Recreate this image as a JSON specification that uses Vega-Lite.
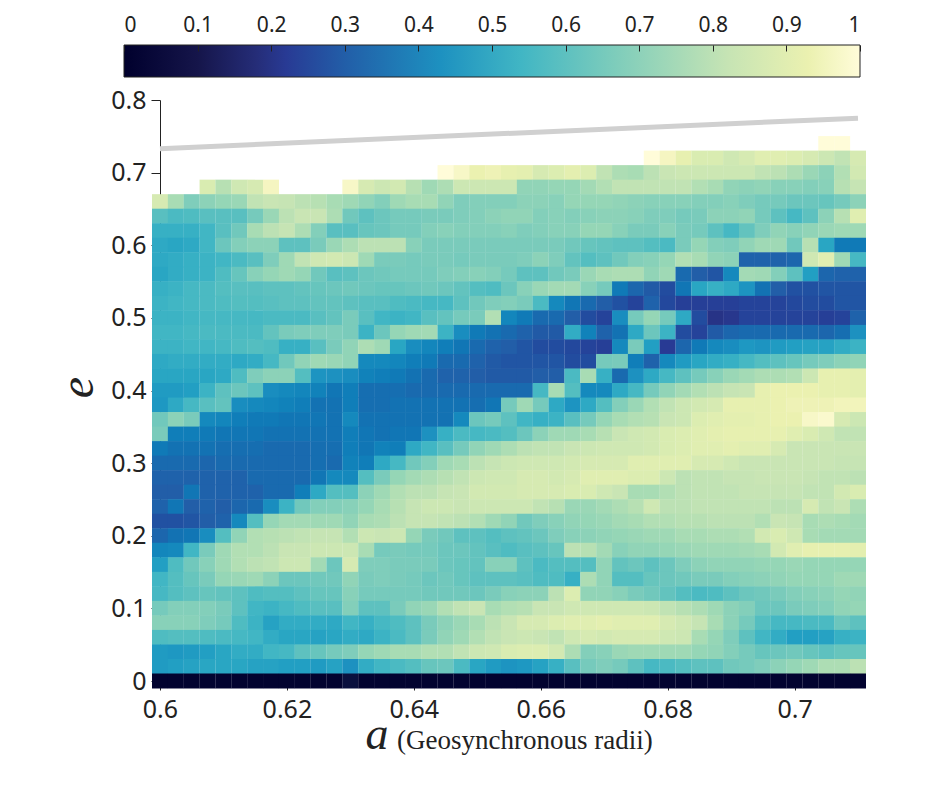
{"$schema":"https://vega.github.io/schema/vega-lite/v6.json","padding":{"left":54,"top":14,"right":0,"bottom":0},"background":"white","spacing":10,"config":{"view":{"stroke":null}},"vconcat":[{"width":736,"height":32,"data":{"values":[{"lo":0,"hi":1}]},"mark":{"type":"rect","stroke":"#222","strokeWidth":1,"color":{"gradient":"linear","x1":0,"x2":1,"y1":0,"y2":0,"stops":[{"offset":0,"color":"#00002d"},{"offset":0.1,"color":"#15154a"},{"offset":0.18,"color":"#252d78"},{"offset":0.22,"color":"#283a94"},{"offset":0.3,"color":"#225ea8"},{"offset":0.43,"color":"#1d91c0"},{"offset":0.54,"color":"#41b6c4"},{"offset":0.67,"color":"#7fcdbb"},{"offset":0.82,"color":"#c6e4b4"},{"offset":0.93,"color":"#ebf1b0"},{"offset":1,"color":"#fffcd9"}]}},"encoding":{"x":{"field":"lo","type":"quantitative","scale":{"domain":[0,1]},"axis":{"orient":"top","title":null,"values":[0,0.1,0.2,0.3,0.4,0.5,0.6,0.7,0.8,0.9,1],"labelExpr":"datum.value","tickSize":-6,"tickColor":"#222","domain":false,"labelFlush":true,"labelFont":"Noto Sans","labelFontSize":21,"labelColor":"#222","labelPadding":16,"grid":false,"zindex":1}},"x2":{"field":"hi"}}},{"width":734,"height":581,"title":{"text":"(Geosynchronous radii)","orient":"bottom","anchor":"start","offset":-29,"dx":343,"font":"Liberation Serif","fontSize":27,"fontWeight":"normal","color":"#222"},"layer":[{"data":{"values":[
{"a":0.705,"e":0.74,"v":1},{"a":0.7075,"e":0.74,"v":1},
{"a":0.6775,"e":0.72,"v":1},{"a":0.68,"e":0.72,"v":0.96},{"a":0.6825,"e":0.72,"v":0.92},{"a":0.685,"e":0.72,"v":0.88},{"a":0.6875,"e":0.72,"v":0.88},{"a":0.69,"e":0.72,"v":0.85},{"a":0.6925,"e":0.72,"v":0.87},{"a":0.695,"e":0.72,"v":0.9},{"a":0.6975,"e":0.72,"v":0.9},{"a":0.7,"e":0.72,"v":0.89},{"a":0.7025,"e":0.72,"v":0.87},{"a":0.705,"e":0.72,"v":0.84},{"a":0.7075,"e":0.72,"v":0.81},{"a":0.71,"e":0.72,"v":0.87},
{"a":0.645,"e":0.7,"v":1},{"a":0.6475,"e":0.7,"v":0.97},{"a":0.65,"e":0.7,"v":0.93},{"a":0.6525,"e":0.7,"v":0.94},{"a":0.655,"e":0.7,"v":0.92},{"a":0.6575,"e":0.7,"v":0.91},{"a":0.66,"e":0.7,"v":0.87},{"a":0.6625,"e":0.7,"v":0.89},{"a":0.665,"e":0.7,"v":0.91},{"a":0.6675,"e":0.7,"v":0.89},{"a":0.67,"e":0.7,"v":0.81},{"a":0.6725,"e":0.7,"v":0.77},{"a":0.675,"e":0.7,"v":0.76},{"a":0.6775,"e":0.7,"v":0.8},{"a":0.68,"e":0.7,"v":0.83},{"a":0.6825,"e":0.7,"v":0.84},{"a":0.685,"e":0.7,"v":0.84},{"a":0.6875,"e":0.7,"v":0.84},{"a":0.69,"e":0.7,"v":0.84},{"a":0.6925,"e":0.7,"v":0.84},{"a":0.695,"e":0.7,"v":0.81},{"a":0.6975,"e":0.7,"v":0.8},{"a":0.7,"e":0.7,"v":0.77},{"a":0.7025,"e":0.7,"v":0.73},{"a":0.705,"e":0.7,"v":0.7},{"a":0.7075,"e":0.7,"v":0.78},{"a":0.71,"e":0.7,"v":0.86},
{"a":0.6075,"e":0.68,"v":0.88},{"a":0.61,"e":0.68,"v":0.79},{"a":0.6125,"e":0.68,"v":0.85},{"a":0.615,"e":0.68,"v":0.87},{"a":0.6175,"e":0.68,"v":0.96},{"a":0.63,"e":0.68,"v":0.97},{"a":0.6325,"e":0.68,"v":0.87},{"a":0.635,"e":0.68,"v":0.84},{"a":0.6375,"e":0.68,"v":0.86},{"a":0.64,"e":0.68,"v":0.79},{"a":0.6425,"e":0.68,"v":0.74},{"a":0.645,"e":0.68,"v":0.77},{"a":0.6475,"e":0.68,"v":0.84},{"a":0.65,"e":0.68,"v":0.84},{"a":0.6525,"e":0.68,"v":0.84},{"a":0.655,"e":0.68,"v":0.84},{"a":0.6575,"e":0.68,"v":0.71},{"a":0.66,"e":0.68,"v":0.71},{"a":0.6625,"e":0.68,"v":0.72},{"a":0.665,"e":0.68,"v":0.72},{"a":0.6675,"e":0.68,"v":0.75},{"a":0.67,"e":0.68,"v":0.78},{"a":0.6725,"e":0.68,"v":0.81},{"a":0.675,"e":0.68,"v":0.81},{"a":0.6775,"e":0.68,"v":0.81},{"a":0.68,"e":0.68,"v":0.81},{"a":0.6825,"e":0.68,"v":0.81},{"a":0.685,"e":0.68,"v":0.78},{"a":0.6875,"e":0.68,"v":0.76},{"a":0.69,"e":0.68,"v":0.71},{"a":0.6925,"e":0.68,"v":0.7},{"a":0.695,"e":0.68,"v":0.71},{"a":0.6975,"e":0.68,"v":0.69},{"a":0.7,"e":0.68,"v":0.69},{"a":0.7025,"e":0.68,"v":0.68},{"a":0.705,"e":0.68,"v":0.69},{"a":0.7075,"e":0.68,"v":0.79},{"a":0.71,"e":0.68,"v":0.82},
{"a":0.6,"e":0.66,"v":0.87},{"a":0.6025,"e":0.66,"v":0.76},{"a":0.605,"e":0.66,"v":0.67},{"a":0.6075,"e":0.66,"v":0.7},{"a":0.61,"e":0.66,"v":0.72},{"a":0.6125,"e":0.66,"v":0.73},{"a":0.615,"e":0.66,"v":0.81},{"a":0.6175,"e":0.66,"v":0.83},{"a":0.62,"e":0.66,"v":0.82},{"a":0.6225,"e":0.66,"v":0.8},{"a":0.625,"e":0.66,"v":0.79},{"a":0.6275,"e":0.66,"v":0.76},{"a":0.63,"e":0.66,"v":0.74},{"a":0.6325,"e":0.66,"v":0.71},{"a":0.635,"e":0.66,"v":0.68},{"a":0.6375,"e":0.66,"v":0.74},{"a":0.64,"e":0.66,"v":0.76},{"a":0.6425,"e":0.66,"v":0.76},{"a":0.645,"e":0.66,"v":0.71},{"a":0.6475,"e":0.66,"v":0.67},{"a":0.65,"e":0.66,"v":0.68},{"a":0.6525,"e":0.66,"v":0.68},{"a":0.655,"e":0.66,"v":0.68},{"a":0.6575,"e":0.66,"v":0.7},{"a":0.66,"e":0.66,"v":0.7},{"a":0.6625,"e":0.66,"v":0.69},{"a":0.665,"e":0.66,"v":0.72},{"a":0.6675,"e":0.66,"v":0.72},{"a":0.67,"e":0.66,"v":0.72},{"a":0.6725,"e":0.66,"v":0.71},{"a":0.675,"e":0.66,"v":0.7},{"a":0.6775,"e":0.66,"v":0.69},{"a":0.68,"e":0.66,"v":0.69},{"a":0.6825,"e":0.66,"v":0.69},{"a":0.685,"e":0.66,"v":0.68},{"a":0.6875,"e":0.66,"v":0.68},{"a":0.69,"e":0.66,"v":0.69},{"a":0.6925,"e":0.66,"v":0.67},{"a":0.695,"e":0.66,"v":0.65},{"a":0.6975,"e":0.66,"v":0.65},{"a":0.7,"e":0.66,"v":0.63},{"a":0.7025,"e":0.66,"v":0.63},{"a":0.705,"e":0.66,"v":0.62},{"a":0.7075,"e":0.66,"v":0.65},{"a":0.71,"e":0.66,"v":0.7},
{"a":0.6,"e":0.64,"v":0.59},{"a":0.6025,"e":0.64,"v":0.56},{"a":0.605,"e":0.64,"v":0.57},{"a":0.6075,"e":0.64,"v":0.59},{"a":0.61,"e":0.64,"v":0.59},{"a":0.6125,"e":0.64,"v":0.59},{"a":0.615,"e":0.64,"v":0.65},{"a":0.6175,"e":0.64,"v":0.73},{"a":0.62,"e":0.64,"v":0.8},{"a":0.6225,"e":0.64,"v":0.83},{"a":0.625,"e":0.64,"v":0.83},{"a":0.6275,"e":0.64,"v":0.77},{"a":0.63,"e":0.64,"v":0.64},{"a":0.6325,"e":0.64,"v":0.6},{"a":0.635,"e":0.64,"v":0.63},{"a":0.6375,"e":0.64,"v":0.65},{"a":0.64,"e":0.64,"v":0.65},{"a":0.6425,"e":0.64,"v":0.66},{"a":0.645,"e":0.64,"v":0.66},{"a":0.6475,"e":0.64,"v":0.67},{"a":0.65,"e":0.64,"v":0.68},{"a":0.6525,"e":0.64,"v":0.7},{"a":0.655,"e":0.64,"v":0.71},{"a":0.6575,"e":0.64,"v":0.71},{"a":0.66,"e":0.64,"v":0.68},{"a":0.6625,"e":0.64,"v":0.69},{"a":0.665,"e":0.64,"v":0.68},{"a":0.6675,"e":0.64,"v":0.69},{"a":0.67,"e":0.64,"v":0.7},{"a":0.6725,"e":0.64,"v":0.7},{"a":0.675,"e":0.64,"v":0.69},{"a":0.6775,"e":0.64,"v":0.67},{"a":0.68,"e":0.64,"v":0.67},{"a":0.6825,"e":0.64,"v":0.65},{"a":0.685,"e":0.64,"v":0.66},{"a":0.6875,"e":0.64,"v":0.7},{"a":0.69,"e":0.64,"v":0.7},{"a":0.6925,"e":0.64,"v":0.71},{"a":0.695,"e":0.64,"v":0.65},{"a":0.6975,"e":0.64,"v":0.6},{"a":0.7,"e":0.64,"v":0.55},{"a":0.7025,"e":0.64,"v":0.6},{"a":0.705,"e":0.64,"v":0.7},{"a":0.7075,"e":0.64,"v":0.79},{"a":0.71,"e":0.64,"v":0.9},
{"a":0.6,"e":0.62,"v":0.52},{"a":0.6025,"e":0.62,"v":0.52},{"a":0.605,"e":0.62,"v":0.52},{"a":0.6075,"e":0.62,"v":0.54},{"a":0.61,"e":0.62,"v":0.59},{"a":0.6125,"e":0.62,"v":0.64},{"a":0.615,"e":0.62,"v":0.76},{"a":0.6175,"e":0.62,"v":0.8},{"a":0.62,"e":0.62,"v":0.82},{"a":0.6225,"e":0.62,"v":0.77},{"a":0.625,"e":0.62,"v":0.68},{"a":0.6275,"e":0.62,"v":0.59},{"a":0.63,"e":0.62,"v":0.59},{"a":0.6325,"e":0.62,"v":0.62},{"a":0.635,"e":0.62,"v":0.63},{"a":0.6375,"e":0.62,"v":0.65},{"a":0.64,"e":0.62,"v":0.65},{"a":0.6425,"e":0.62,"v":0.68},{"a":0.645,"e":0.62,"v":0.69},{"a":0.6475,"e":0.62,"v":0.68},{"a":0.65,"e":0.62,"v":0.68},{"a":0.6525,"e":0.62,"v":0.68},{"a":0.655,"e":0.62,"v":0.69},{"a":0.6575,"e":0.62,"v":0.67},{"a":0.66,"e":0.62,"v":0.68},{"a":0.6625,"e":0.62,"v":0.69},{"a":0.665,"e":0.62,"v":0.69},{"a":0.6675,"e":0.62,"v":0.72},{"a":0.67,"e":0.62,"v":0.72},{"a":0.6725,"e":0.62,"v":0.69},{"a":0.675,"e":0.62,"v":0.66},{"a":0.6775,"e":0.62,"v":0.66},{"a":0.68,"e":0.62,"v":0.69},{"a":0.6825,"e":0.62,"v":0.66},{"a":0.685,"e":0.62,"v":0.65},{"a":0.6875,"e":0.62,"v":0.6},{"a":0.69,"e":0.62,"v":0.55},{"a":0.6925,"e":0.62,"v":0.61},{"a":0.695,"e":0.62,"v":0.67},{"a":0.6975,"e":0.62,"v":0.71},{"a":0.7,"e":0.62,"v":0.69},{"a":0.7025,"e":0.62,"v":0.71},{"a":0.705,"e":0.62,"v":0.73},{"a":0.7075,"e":0.62,"v":0.74},{"a":0.71,"e":0.62,"v":0.74},
{"a":0.6,"e":0.6,"v":0.5},{"a":0.6025,"e":0.6,"v":0.49},{"a":0.605,"e":0.6,"v":0.5},{"a":0.6075,"e":0.6,"v":0.54},{"a":0.61,"e":0.6,"v":0.63},{"a":0.6125,"e":0.6,"v":0.68},{"a":0.615,"e":0.6,"v":0.7},{"a":0.6175,"e":0.6,"v":0.7},{"a":0.62,"e":0.6,"v":0.6},{"a":0.6225,"e":0.6,"v":0.6},{"a":0.625,"e":0.6,"v":0.66},{"a":0.6275,"e":0.6,"v":0.73},{"a":0.63,"e":0.6,"v":0.77},{"a":0.6325,"e":0.6,"v":0.8},{"a":0.635,"e":0.6,"v":0.8},{"a":0.6375,"e":0.6,"v":0.8},{"a":0.64,"e":0.6,"v":0.69},{"a":0.6425,"e":0.6,"v":0.66},{"a":0.645,"e":0.6,"v":0.66},{"a":0.6475,"e":0.6,"v":0.66},{"a":0.65,"e":0.6,"v":0.66},{"a":0.6525,"e":0.6,"v":0.66},{"a":0.655,"e":0.6,"v":0.66},{"a":0.6575,"e":0.6,"v":0.66},{"a":0.66,"e":0.6,"v":0.66},{"a":0.6625,"e":0.6,"v":0.66},{"a":0.665,"e":0.6,"v":0.64},{"a":0.6675,"e":0.6,"v":0.62},{"a":0.67,"e":0.6,"v":0.61},{"a":0.6725,"e":0.6,"v":0.6},{"a":0.675,"e":0.6,"v":0.6},{"a":0.6775,"e":0.6,"v":0.58},{"a":0.68,"e":0.6,"v":0.56},{"a":0.6825,"e":0.6,"v":0.66},{"a":0.685,"e":0.6,"v":0.72},{"a":0.6875,"e":0.6,"v":0.68},{"a":0.69,"e":0.6,"v":0.67},{"a":0.6925,"e":0.6,"v":0.71},{"a":0.695,"e":0.6,"v":0.74},{"a":0.6975,"e":0.6,"v":0.74},{"a":0.7,"e":0.6,"v":0.64},{"a":0.7025,"e":0.6,"v":0.79},{"a":0.705,"e":0.6,"v":0.49},{"a":0.7075,"e":0.6,"v":0.37},{"a":0.71,"e":0.6,"v":0.37},
{"a":0.6,"e":0.58,"v":0.5},{"a":0.6025,"e":0.58,"v":0.51},{"a":0.605,"e":0.58,"v":0.52},{"a":0.6075,"e":0.58,"v":0.53},{"a":0.61,"e":0.58,"v":0.54},{"a":0.6125,"e":0.58,"v":0.56},{"a":0.615,"e":0.58,"v":0.59},{"a":0.6175,"e":0.58,"v":0.67},{"a":0.62,"e":0.58,"v":0.74},{"a":0.6225,"e":0.58,"v":0.81},{"a":0.625,"e":0.58,"v":0.85},{"a":0.6275,"e":0.58,"v":0.86},{"a":0.63,"e":0.58,"v":0.84},{"a":0.6325,"e":0.58,"v":0.74},{"a":0.635,"e":0.58,"v":0.66},{"a":0.6375,"e":0.58,"v":0.66},{"a":0.64,"e":0.58,"v":0.65},{"a":0.6425,"e":0.58,"v":0.66},{"a":0.645,"e":0.58,"v":0.66},{"a":0.6475,"e":0.58,"v":0.65},{"a":0.65,"e":0.58,"v":0.66},{"a":0.6525,"e":0.58,"v":0.66},{"a":0.655,"e":0.58,"v":0.66},{"a":0.6575,"e":0.58,"v":0.67},{"a":0.66,"e":0.58,"v":0.7},{"a":0.6625,"e":0.58,"v":0.67},{"a":0.665,"e":0.58,"v":0.61},{"a":0.6675,"e":0.58,"v":0.58},{"a":0.67,"e":0.58,"v":0.6},{"a":0.6725,"e":0.58,"v":0.64},{"a":0.675,"e":0.58,"v":0.68},{"a":0.6775,"e":0.58,"v":0.69},{"a":0.68,"e":0.58,"v":0.72},{"a":0.6825,"e":0.58,"v":0.78},{"a":0.685,"e":0.58,"v":0.76},{"a":0.6875,"e":0.58,"v":0.71},{"a":0.69,"e":0.58,"v":0.7},{"a":0.6925,"e":0.58,"v":0.31},{"a":0.695,"e":0.58,"v":0.31},{"a":0.6975,"e":0.58,"v":0.31},{"a":0.7,"e":0.58,"v":0.32},{"a":0.7025,"e":0.58,"v":0.85},{"a":0.705,"e":0.58,"v":0.9},{"a":0.7075,"e":0.58,"v":0.74},{"a":0.71,"e":0.58,"v":0.55},
{"a":0.6,"e":0.56,"v":0.49},{"a":0.6025,"e":0.56,"v":0.51},{"a":0.605,"e":0.56,"v":0.52},{"a":0.6075,"e":0.56,"v":0.53},{"a":0.61,"e":0.56,"v":0.57},{"a":0.6125,"e":0.56,"v":0.62},{"a":0.615,"e":0.56,"v":0.69},{"a":0.6175,"e":0.56,"v":0.72},{"a":0.62,"e":0.56,"v":0.74},{"a":0.6225,"e":0.56,"v":0.72},{"a":0.625,"e":0.56,"v":0.64},{"a":0.6275,"e":0.56,"v":0.59},{"a":0.63,"e":0.56,"v":0.6},{"a":0.6325,"e":0.56,"v":0.63},{"a":0.635,"e":0.56,"v":0.64},{"a":0.6375,"e":0.56,"v":0.65},{"a":0.64,"e":0.56,"v":0.65},{"a":0.6425,"e":0.56,"v":0.65},{"a":0.645,"e":0.56,"v":0.67},{"a":0.6475,"e":0.56,"v":0.68},{"a":0.65,"e":0.56,"v":0.69},{"a":0.6525,"e":0.56,"v":0.68},{"a":0.655,"e":0.56,"v":0.65},{"a":0.6575,"e":0.56,"v":0.6},{"a":0.66,"e":0.56,"v":0.6},{"a":0.6625,"e":0.56,"v":0.64},{"a":0.665,"e":0.56,"v":0.66},{"a":0.6675,"e":0.56,"v":0.73},{"a":0.67,"e":0.56,"v":0.76},{"a":0.6725,"e":0.56,"v":0.77},{"a":0.675,"e":0.56,"v":0.77},{"a":0.6775,"e":0.56,"v":0.71},{"a":0.68,"e":0.56,"v":0.74},{"a":0.6825,"e":0.56,"v":0.33},{"a":0.685,"e":0.56,"v":0.3},{"a":0.6875,"e":0.56,"v":0.28},{"a":0.69,"e":0.56,"v":0.41},{"a":0.6925,"e":0.56,"v":0.75},{"a":0.695,"e":0.56,"v":0.74},{"a":0.6975,"e":0.56,"v":0.68},{"a":0.7,"e":0.56,"v":0.6},{"a":0.7025,"e":0.56,"v":0.47},{"a":0.705,"e":0.56,"v":0.32},{"a":0.7075,"e":0.56,"v":0.31},{"a":0.71,"e":0.56,"v":0.31},
{"a":0.6,"e":0.54,"v":0.52},{"a":0.6025,"e":0.54,"v":0.53},{"a":0.605,"e":0.54,"v":0.55},{"a":0.6075,"e":0.54,"v":0.56},{"a":0.61,"e":0.54,"v":0.58},{"a":0.6125,"e":0.54,"v":0.59},{"a":0.615,"e":0.54,"v":0.59},{"a":0.6175,"e":0.54,"v":0.6},{"a":0.62,"e":0.54,"v":0.6},{"a":0.6225,"e":0.54,"v":0.61},{"a":0.625,"e":0.54,"v":0.62},{"a":0.6275,"e":0.54,"v":0.63},{"a":0.63,"e":0.54,"v":0.64},{"a":0.6325,"e":0.54,"v":0.63},{"a":0.635,"e":0.54,"v":0.62},{"a":0.6375,"e":0.54,"v":0.62},{"a":0.64,"e":0.54,"v":0.63},{"a":0.6425,"e":0.54,"v":0.64},{"a":0.645,"e":0.54,"v":0.63},{"a":0.6475,"e":0.54,"v":0.61},{"a":0.65,"e":0.54,"v":0.58},{"a":0.6525,"e":0.54,"v":0.57},{"a":0.655,"e":0.54,"v":0.63},{"a":0.6575,"e":0.54,"v":0.69},{"a":0.66,"e":0.54,"v":0.73},{"a":0.6625,"e":0.54,"v":0.75},{"a":0.665,"e":0.54,"v":0.75},{"a":0.6675,"e":0.54,"v":0.69},{"a":0.67,"e":0.54,"v":0.65},{"a":0.6725,"e":0.54,"v":0.37},{"a":0.675,"e":0.54,"v":0.32},{"a":0.6775,"e":0.54,"v":0.29},{"a":0.68,"e":0.54,"v":0.26},{"a":0.6825,"e":0.54,"v":0.36},{"a":0.685,"e":0.54,"v":0.49},{"a":0.6875,"e":0.54,"v":0.52},{"a":0.69,"e":0.54,"v":0.5},{"a":0.6925,"e":0.54,"v":0.44},{"a":0.695,"e":0.54,"v":0.35},{"a":0.6975,"e":0.54,"v":0.3},{"a":0.7,"e":0.54,"v":0.27},{"a":0.7025,"e":0.54,"v":0.27},{"a":0.705,"e":0.54,"v":0.28},{"a":0.7075,"e":0.54,"v":0.28},{"a":0.71,"e":0.54,"v":0.28},
{"a":0.6,"e":0.52,"v":0.53},{"a":0.6025,"e":0.52,"v":0.54},{"a":0.605,"e":0.52,"v":0.55},{"a":0.6075,"e":0.52,"v":0.56},{"a":0.61,"e":0.52,"v":0.57},{"a":0.6125,"e":0.52,"v":0.58},{"a":0.615,"e":0.52,"v":0.58},{"a":0.6175,"e":0.52,"v":0.59},{"a":0.62,"e":0.52,"v":0.6},{"a":0.6225,"e":0.52,"v":0.6},{"a":0.625,"e":0.52,"v":0.61},{"a":0.6275,"e":0.52,"v":0.61},{"a":0.63,"e":0.52,"v":0.6},{"a":0.6325,"e":0.52,"v":0.59},{"a":0.635,"e":0.52,"v":0.59},{"a":0.6375,"e":0.52,"v":0.57},{"a":0.64,"e":0.52,"v":0.56},{"a":0.6425,"e":0.52,"v":0.55},{"a":0.645,"e":0.52,"v":0.55},{"a":0.6475,"e":0.52,"v":0.6},{"a":0.65,"e":0.52,"v":0.64},{"a":0.6525,"e":0.52,"v":0.67},{"a":0.655,"e":0.52,"v":0.68},{"a":0.6575,"e":0.52,"v":0.66},{"a":0.66,"e":0.52,"v":0.56},{"a":0.6625,"e":0.52,"v":0.41},{"a":0.665,"e":0.52,"v":0.36},{"a":0.6675,"e":0.52,"v":0.33},{"a":0.67,"e":0.52,"v":0.3},{"a":0.6725,"e":0.52,"v":0.27},{"a":0.675,"e":0.52,"v":0.24},{"a":0.6775,"e":0.52,"v":0.31},{"a":0.68,"e":0.52,"v":0.25},{"a":0.6825,"e":0.52,"v":0.23},{"a":0.685,"e":0.52,"v":0.23},{"a":0.6875,"e":0.52,"v":0.23},{"a":0.69,"e":0.52,"v":0.23},{"a":0.6925,"e":0.52,"v":0.24},{"a":0.695,"e":0.52,"v":0.24},{"a":0.6975,"e":0.52,"v":0.24},{"a":0.7,"e":0.52,"v":0.25},{"a":0.7025,"e":0.52,"v":0.26},{"a":0.705,"e":0.52,"v":0.26},{"a":0.7075,"e":0.52,"v":0.28},{"a":0.71,"e":0.52,"v":0.28},
{"a":0.6,"e":0.5,"v":0.53},{"a":0.6025,"e":0.5,"v":0.53},{"a":0.605,"e":0.5,"v":0.54},{"a":0.6075,"e":0.5,"v":0.55},{"a":0.61,"e":0.5,"v":0.55},{"a":0.6125,"e":0.5,"v":0.55},{"a":0.615,"e":0.5,"v":0.55},{"a":0.6175,"e":0.5,"v":0.56},{"a":0.62,"e":0.5,"v":0.56},{"a":0.6225,"e":0.5,"v":0.56},{"a":0.625,"e":0.5,"v":0.59},{"a":0.6275,"e":0.5,"v":0.61},{"a":0.63,"e":0.5,"v":0.66},{"a":0.6325,"e":0.5,"v":0.59},{"a":0.635,"e":0.5,"v":0.54},{"a":0.6375,"e":0.5,"v":0.53},{"a":0.64,"e":0.5,"v":0.54},{"a":0.6425,"e":0.5,"v":0.59},{"a":0.645,"e":0.5,"v":0.61},{"a":0.6475,"e":0.5,"v":0.65},{"a":0.65,"e":0.5,"v":0.66},{"a":0.6525,"e":0.5,"v":0.78},{"a":0.655,"e":0.5,"v":0.4},{"a":0.6575,"e":0.5,"v":0.37},{"a":0.66,"e":0.5,"v":0.33},{"a":0.6625,"e":0.5,"v":0.33},{"a":0.665,"e":0.5,"v":0.3},{"a":0.6675,"e":0.5,"v":0.26},{"a":0.67,"e":0.5,"v":0.24},{"a":0.6725,"e":0.5,"v":0.42},{"a":0.675,"e":0.5,"v":0.65},{"a":0.6775,"e":0.5,"v":0.72},{"a":0.68,"e":0.5,"v":0.65},{"a":0.6825,"e":0.5,"v":0.5},{"a":0.685,"e":0.5,"v":0.26},{"a":0.6875,"e":0.5,"v":0.2},{"a":0.69,"e":0.5,"v":0.21},{"a":0.6925,"e":0.5,"v":0.24},{"a":0.695,"e":0.5,"v":0.24},{"a":0.6975,"e":0.5,"v":0.24},{"a":0.7,"e":0.5,"v":0.24},{"a":0.7025,"e":0.5,"v":0.24},{"a":0.705,"e":0.5,"v":0.23},{"a":0.7075,"e":0.5,"v":0.24},{"a":0.71,"e":0.5,"v":0.31},
{"a":0.6,"e":0.48,"v":0.54},{"a":0.6025,"e":0.48,"v":0.54},{"a":0.605,"e":0.48,"v":0.55},{"a":0.6075,"e":0.48,"v":0.56},{"a":0.61,"e":0.48,"v":0.56},{"a":0.6125,"e":0.48,"v":0.56},{"a":0.615,"e":0.48,"v":0.56},{"a":0.6175,"e":0.48,"v":0.61},{"a":0.62,"e":0.48,"v":0.66},{"a":0.6225,"e":0.48,"v":0.67},{"a":0.625,"e":0.48,"v":0.67},{"a":0.6275,"e":0.48,"v":0.67},{"a":0.63,"e":0.48,"v":0.66},{"a":0.6325,"e":0.48,"v":0.53},{"a":0.635,"e":0.48,"v":0.63},{"a":0.6375,"e":0.48,"v":0.72},{"a":0.64,"e":0.48,"v":0.74},{"a":0.6425,"e":0.48,"v":0.75},{"a":0.645,"e":0.48,"v":0.53},{"a":0.6475,"e":0.48,"v":0.42},{"a":0.65,"e":0.48,"v":0.37},{"a":0.6525,"e":0.48,"v":0.35},{"a":0.655,"e":0.48,"v":0.33},{"a":0.6575,"e":0.48,"v":0.31},{"a":0.66,"e":0.48,"v":0.29},{"a":0.6625,"e":0.48,"v":0.29},{"a":0.665,"e":0.48,"v":0.51},{"a":0.6675,"e":0.48,"v":0.39},{"a":0.67,"e":0.48,"v":0.31},{"a":0.6725,"e":0.48,"v":0.35},{"a":0.675,"e":0.48,"v":0.5},{"a":0.6775,"e":0.48,"v":0.63},{"a":0.68,"e":0.48,"v":0.53},{"a":0.6825,"e":0.48,"v":0.26},{"a":0.685,"e":0.48,"v":0.24},{"a":0.6875,"e":0.48,"v":0.29},{"a":0.69,"e":0.48,"v":0.32},{"a":0.6925,"e":0.48,"v":0.33},{"a":0.695,"e":0.48,"v":0.33},{"a":0.6975,"e":0.48,"v":0.33},{"a":0.7,"e":0.48,"v":0.33},{"a":0.7025,"e":0.48,"v":0.33},{"a":0.705,"e":0.48,"v":0.32},{"a":0.7075,"e":0.48,"v":0.34},{"a":0.71,"e":0.48,"v":0.43},
{"a":0.6,"e":0.46,"v":0.53},{"a":0.6025,"e":0.46,"v":0.53},{"a":0.605,"e":0.46,"v":0.54},{"a":0.6075,"e":0.46,"v":0.54},{"a":0.61,"e":0.46,"v":0.55},{"a":0.6125,"e":0.46,"v":0.57},{"a":0.615,"e":0.46,"v":0.58},{"a":0.6175,"e":0.46,"v":0.57},{"a":0.62,"e":0.46,"v":0.52},{"a":0.6225,"e":0.46,"v":0.52},{"a":0.625,"e":0.46,"v":0.59},{"a":0.6275,"e":0.46,"v":0.66},{"a":0.63,"e":0.46,"v":0.71},{"a":0.6325,"e":0.46,"v":0.77},{"a":0.635,"e":0.46,"v":0.74},{"a":0.6375,"e":0.46,"v":0.49},{"a":0.64,"e":0.46,"v":0.42},{"a":0.6425,"e":0.46,"v":0.4},{"a":0.645,"e":0.46,"v":0.38},{"a":0.6475,"e":0.46,"v":0.36},{"a":0.65,"e":0.46,"v":0.33},{"a":0.6525,"e":0.46,"v":0.31},{"a":0.655,"e":0.46,"v":0.3},{"a":0.6575,"e":0.46,"v":0.28},{"a":0.66,"e":0.46,"v":0.26},{"a":0.6625,"e":0.46,"v":0.26},{"a":0.665,"e":0.46,"v":0.25},{"a":0.6675,"e":0.46,"v":0.24},{"a":0.67,"e":0.46,"v":0.23},{"a":0.6725,"e":0.46,"v":0.41},{"a":0.675,"e":0.46,"v":0.66},{"a":0.6775,"e":0.46,"v":0.47},{"a":0.68,"e":0.46,"v":0.22},{"a":0.6825,"e":0.46,"v":0.32},{"a":0.685,"e":0.46,"v":0.37},{"a":0.6875,"e":0.46,"v":0.41},{"a":0.69,"e":0.46,"v":0.42},{"a":0.6925,"e":0.46,"v":0.45},{"a":0.695,"e":0.46,"v":0.44},{"a":0.6975,"e":0.46,"v":0.46},{"a":0.7,"e":0.46,"v":0.47},{"a":0.7025,"e":0.46,"v":0.48},{"a":0.705,"e":0.46,"v":0.48},{"a":0.7075,"e":0.46,"v":0.51},{"a":0.71,"e":0.46,"v":0.53},
{"a":0.6,"e":0.44,"v":0.5},{"a":0.6025,"e":0.44,"v":0.51},{"a":0.605,"e":0.44,"v":0.51},{"a":0.6075,"e":0.44,"v":0.51},{"a":0.61,"e":0.44,"v":0.51},{"a":0.6125,"e":0.44,"v":0.5},{"a":0.615,"e":0.44,"v":0.51},{"a":0.6175,"e":0.44,"v":0.55},{"a":0.62,"e":0.44,"v":0.64},{"a":0.6225,"e":0.44,"v":0.71},{"a":0.625,"e":0.44,"v":0.74},{"a":0.6275,"e":0.44,"v":0.73},{"a":0.63,"e":0.44,"v":0.71},{"a":0.6325,"e":0.44,"v":0.41},{"a":0.635,"e":0.44,"v":0.41},{"a":0.6375,"e":0.44,"v":0.4},{"a":0.64,"e":0.44,"v":0.38},{"a":0.6425,"e":0.44,"v":0.37},{"a":0.645,"e":0.44,"v":0.33},{"a":0.6475,"e":0.44,"v":0.33},{"a":0.65,"e":0.44,"v":0.31},{"a":0.6525,"e":0.44,"v":0.29},{"a":0.655,"e":0.44,"v":0.28},{"a":0.6575,"e":0.44,"v":0.28},{"a":0.66,"e":0.44,"v":0.28},{"a":0.6625,"e":0.44,"v":0.28},{"a":0.665,"e":0.44,"v":0.26},{"a":0.6675,"e":0.44,"v":0.26},{"a":0.67,"e":0.44,"v":0.65},{"a":0.6725,"e":0.44,"v":0.66},{"a":0.675,"e":0.44,"v":0.38},{"a":0.6775,"e":0.44,"v":0.31},{"a":0.68,"e":0.44,"v":0.41},{"a":0.6825,"e":0.44,"v":0.46},{"a":0.685,"e":0.44,"v":0.49},{"a":0.6875,"e":0.44,"v":0.51},{"a":0.69,"e":0.44,"v":0.52},{"a":0.6925,"e":0.44,"v":0.55},{"a":0.695,"e":0.44,"v":0.58},{"a":0.6975,"e":0.44,"v":0.6},{"a":0.7,"e":0.44,"v":0.62},{"a":0.7025,"e":0.44,"v":0.65},{"a":0.705,"e":0.44,"v":0.67},{"a":0.7075,"e":0.44,"v":0.7},{"a":0.71,"e":0.44,"v":0.71},
{"a":0.6,"e":0.42,"v":0.49},{"a":0.6025,"e":0.42,"v":0.49},{"a":0.605,"e":0.42,"v":0.49},{"a":0.6075,"e":0.42,"v":0.49},{"a":0.61,"e":0.42,"v":0.5},{"a":0.6125,"e":0.42,"v":0.57},{"a":0.615,"e":0.42,"v":0.67},{"a":0.6175,"e":0.42,"v":0.7},{"a":0.62,"e":0.42,"v":0.7},{"a":0.6225,"e":0.42,"v":0.58},{"a":0.625,"e":0.42,"v":0.44},{"a":0.6275,"e":0.42,"v":0.43},{"a":0.63,"e":0.42,"v":0.42},{"a":0.6325,"e":0.42,"v":0.39},{"a":0.635,"e":0.42,"v":0.38},{"a":0.6375,"e":0.42,"v":0.37},{"a":0.64,"e":0.42,"v":0.35},{"a":0.6425,"e":0.42,"v":0.33},{"a":0.645,"e":0.42,"v":0.31},{"a":0.6475,"e":0.42,"v":0.31},{"a":0.65,"e":0.42,"v":0.3},{"a":0.6525,"e":0.42,"v":0.29},{"a":0.655,"e":0.42,"v":0.29},{"a":0.6575,"e":0.42,"v":0.29},{"a":0.66,"e":0.42,"v":0.3},{"a":0.6625,"e":0.42,"v":0.3},{"a":0.665,"e":0.42,"v":0.56},{"a":0.6675,"e":0.42,"v":0.76},{"a":0.67,"e":0.42,"v":0.52},{"a":0.6725,"e":0.42,"v":0.33},{"a":0.675,"e":0.42,"v":0.43},{"a":0.6775,"e":0.42,"v":0.5},{"a":0.68,"e":0.42,"v":0.55},{"a":0.6825,"e":0.42,"v":0.6},{"a":0.685,"e":0.42,"v":0.65},{"a":0.6875,"e":0.42,"v":0.69},{"a":0.69,"e":0.42,"v":0.73},{"a":0.6925,"e":0.42,"v":0.75},{"a":0.695,"e":0.42,"v":0.77},{"a":0.6975,"e":0.42,"v":0.77},{"a":0.7,"e":0.42,"v":0.78},{"a":0.7025,"e":0.42,"v":0.84},{"a":0.705,"e":0.42,"v":0.92},{"a":0.7075,"e":0.42,"v":0.92},{"a":0.71,"e":0.42,"v":0.91},
{"a":0.6,"e":0.4,"v":0.46},{"a":0.6025,"e":0.4,"v":0.46},{"a":0.605,"e":0.4,"v":0.47},{"a":0.6075,"e":0.4,"v":0.53},{"a":0.61,"e":0.4,"v":0.6},{"a":0.6125,"e":0.4,"v":0.63},{"a":0.615,"e":0.4,"v":0.6},{"a":0.6175,"e":0.4,"v":0.42},{"a":0.62,"e":0.4,"v":0.41},{"a":0.6225,"e":0.4,"v":0.4},{"a":0.625,"e":0.4,"v":0.39},{"a":0.6275,"e":0.4,"v":0.36},{"a":0.63,"e":0.4,"v":0.38},{"a":0.6325,"e":0.4,"v":0.34},{"a":0.635,"e":0.4,"v":0.34},{"a":0.6375,"e":0.4,"v":0.34},{"a":0.64,"e":0.4,"v":0.33},{"a":0.6425,"e":0.4,"v":0.33},{"a":0.645,"e":0.4,"v":0.33},{"a":0.6475,"e":0.4,"v":0.33},{"a":0.65,"e":0.4,"v":0.33},{"a":0.6525,"e":0.4,"v":0.33},{"a":0.655,"e":0.4,"v":0.33},{"a":0.6575,"e":0.4,"v":0.33},{"a":0.66,"e":0.4,"v":0.55},{"a":0.6625,"e":0.4,"v":0.76},{"a":0.665,"e":0.4,"v":0.58},{"a":0.6675,"e":0.4,"v":0.41},{"a":0.67,"e":0.4,"v":0.41},{"a":0.6725,"e":0.4,"v":0.5},{"a":0.675,"e":0.4,"v":0.55},{"a":0.6775,"e":0.4,"v":0.65},{"a":0.68,"e":0.4,"v":0.71},{"a":0.6825,"e":0.4,"v":0.75},{"a":0.685,"e":0.4,"v":0.78},{"a":0.6875,"e":0.4,"v":0.8},{"a":0.69,"e":0.4,"v":0.82},{"a":0.6925,"e":0.4,"v":0.83},{"a":0.695,"e":0.4,"v":0.92},{"a":0.6975,"e":0.4,"v":0.93},{"a":0.7,"e":0.4,"v":0.93},{"a":0.7025,"e":0.4,"v":0.93},{"a":0.705,"e":0.4,"v":0.92},{"a":0.7075,"e":0.4,"v":0.92},{"a":0.71,"e":0.4,"v":0.91},
{"a":0.6,"e":0.38,"v":0.45},{"a":0.6025,"e":0.38,"v":0.5},{"a":0.605,"e":0.38,"v":0.55},{"a":0.6075,"e":0.38,"v":0.59},{"a":0.61,"e":0.38,"v":0.61},{"a":0.6125,"e":0.38,"v":0.42},{"a":0.615,"e":0.38,"v":0.41},{"a":0.6175,"e":0.38,"v":0.4},{"a":0.62,"e":0.38,"v":0.39},{"a":0.6225,"e":0.38,"v":0.38},{"a":0.625,"e":0.38,"v":0.35},{"a":0.6275,"e":0.38,"v":0.35},{"a":0.63,"e":0.38,"v":0.38},{"a":0.6325,"e":0.38,"v":0.34},{"a":0.635,"e":0.38,"v":0.34},{"a":0.6375,"e":0.38,"v":0.35},{"a":0.64,"e":0.38,"v":0.35},{"a":0.6425,"e":0.38,"v":0.35},{"a":0.645,"e":0.38,"v":0.35},{"a":0.6475,"e":0.38,"v":0.35},{"a":0.65,"e":0.38,"v":0.34},{"a":0.6525,"e":0.38,"v":0.36},{"a":0.655,"e":0.38,"v":0.65},{"a":0.6575,"e":0.38,"v":0.74},{"a":0.66,"e":0.38,"v":0.65},{"a":0.6625,"e":0.38,"v":0.5},{"a":0.665,"e":0.38,"v":0.44},{"a":0.6675,"e":0.38,"v":0.5},{"a":0.67,"e":0.38,"v":0.58},{"a":0.6725,"e":0.38,"v":0.68},{"a":0.675,"e":0.38,"v":0.73},{"a":0.6775,"e":0.38,"v":0.78},{"a":0.68,"e":0.38,"v":0.81},{"a":0.6825,"e":0.38,"v":0.84},{"a":0.685,"e":0.38,"v":0.86},{"a":0.6875,"e":0.38,"v":0.87},{"a":0.69,"e":0.38,"v":0.92},{"a":0.6925,"e":0.38,"v":0.92},{"a":0.695,"e":0.38,"v":0.92},{"a":0.6975,"e":0.38,"v":0.93},{"a":0.7,"e":0.38,"v":0.94},{"a":0.7025,"e":0.38,"v":0.94},{"a":0.705,"e":0.38,"v":0.94},{"a":0.7075,"e":0.38,"v":0.95},{"a":0.71,"e":0.38,"v":0.95},
{"a":0.6,"e":0.36,"v":0.64},{"a":0.6025,"e":0.36,"v":0.7},{"a":0.605,"e":0.36,"v":0.66},{"a":0.6075,"e":0.36,"v":0.41},{"a":0.61,"e":0.36,"v":0.4},{"a":0.6125,"e":0.36,"v":0.38},{"a":0.615,"e":0.36,"v":0.37},{"a":0.6175,"e":0.36,"v":0.37},{"a":0.62,"e":0.36,"v":0.36},{"a":0.6225,"e":0.36,"v":0.36},{"a":0.625,"e":0.36,"v":0.36},{"a":0.6275,"e":0.36,"v":0.35},{"a":0.63,"e":0.36,"v":0.41},{"a":0.6325,"e":0.36,"v":0.35},{"a":0.635,"e":0.36,"v":0.35},{"a":0.6375,"e":0.36,"v":0.35},{"a":0.64,"e":0.36,"v":0.35},{"a":0.6425,"e":0.36,"v":0.35},{"a":0.645,"e":0.36,"v":0.35},{"a":0.6475,"e":0.36,"v":0.41},{"a":0.65,"e":0.36,"v":0.63},{"a":0.6525,"e":0.36,"v":0.65},{"a":0.655,"e":0.36,"v":0.6},{"a":0.6575,"e":0.36,"v":0.54},{"a":0.66,"e":0.36,"v":0.52},{"a":0.6625,"e":0.36,"v":0.53},{"a":0.665,"e":0.36,"v":0.59},{"a":0.6675,"e":0.36,"v":0.65},{"a":0.67,"e":0.36,"v":0.72},{"a":0.6725,"e":0.36,"v":0.76},{"a":0.675,"e":0.36,"v":0.78},{"a":0.6775,"e":0.36,"v":0.79},{"a":0.68,"e":0.36,"v":0.83},{"a":0.6825,"e":0.36,"v":0.84},{"a":0.685,"e":0.36,"v":0.89},{"a":0.6875,"e":0.36,"v":0.9},{"a":0.69,"e":0.36,"v":0.91},{"a":0.6925,"e":0.36,"v":0.91},{"a":0.695,"e":0.36,"v":0.92},{"a":0.6975,"e":0.36,"v":0.93},{"a":0.7,"e":0.36,"v":0.93},{"a":0.7025,"e":0.36,"v":0.97},{"a":0.705,"e":0.36,"v":0.98},{"a":0.7075,"e":0.36,"v":0.87},{"a":0.71,"e":0.36,"v":0.84},
{"a":0.6,"e":0.34,"v":0.66},{"a":0.6025,"e":0.34,"v":0.38},{"a":0.605,"e":0.34,"v":0.38},{"a":0.6075,"e":0.34,"v":0.37},{"a":0.61,"e":0.34,"v":0.36},{"a":0.6125,"e":0.34,"v":0.36},{"a":0.615,"e":0.34,"v":0.36},{"a":0.6175,"e":0.34,"v":0.35},{"a":0.62,"e":0.34,"v":0.35},{"a":0.6225,"e":0.34,"v":0.35},{"a":0.625,"e":0.34,"v":0.35},{"a":0.6275,"e":0.34,"v":0.35},{"a":0.63,"e":0.34,"v":0.38},{"a":0.6325,"e":0.34,"v":0.36},{"a":0.635,"e":0.34,"v":0.35},{"a":0.6375,"e":0.34,"v":0.36},{"a":0.64,"e":0.34,"v":0.36},{"a":0.6425,"e":0.34,"v":0.43},{"a":0.645,"e":0.34,"v":0.52},{"a":0.6475,"e":0.34,"v":0.56},{"a":0.65,"e":0.34,"v":0.55},{"a":0.6525,"e":0.34,"v":0.56},{"a":0.655,"e":0.34,"v":0.58},{"a":0.6575,"e":0.34,"v":0.63},{"a":0.66,"e":0.34,"v":0.7},{"a":0.6625,"e":0.34,"v":0.74},{"a":0.665,"e":0.34,"v":0.74},{"a":0.6675,"e":0.34,"v":0.76},{"a":0.67,"e":0.34,"v":0.79},{"a":0.6725,"e":0.34,"v":0.83},{"a":0.675,"e":0.34,"v":0.85},{"a":0.6775,"e":0.34,"v":0.86},{"a":0.68,"e":0.34,"v":0.88},{"a":0.6825,"e":0.34,"v":0.89},{"a":0.685,"e":0.34,"v":0.9},{"a":0.6875,"e":0.34,"v":0.91},{"a":0.69,"e":0.34,"v":0.92},{"a":0.6925,"e":0.34,"v":0.92},{"a":0.695,"e":0.34,"v":0.92},{"a":0.6975,"e":0.34,"v":0.92},{"a":0.7,"e":0.34,"v":0.9},{"a":0.7025,"e":0.34,"v":0.88},{"a":0.705,"e":0.34,"v":0.85},{"a":0.7075,"e":0.34,"v":0.81},{"a":0.71,"e":0.34,"v":0.81},
{"a":0.6,"e":0.32,"v":0.37},{"a":0.6025,"e":0.32,"v":0.35},{"a":0.605,"e":0.32,"v":0.35},{"a":0.6075,"e":0.32,"v":0.35},{"a":0.61,"e":0.32,"v":0.34},{"a":0.6125,"e":0.32,"v":0.34},{"a":0.615,"e":0.32,"v":0.34},{"a":0.6175,"e":0.32,"v":0.33},{"a":0.62,"e":0.32,"v":0.33},{"a":0.6225,"e":0.32,"v":0.33},{"a":0.625,"e":0.32,"v":0.34},{"a":0.6275,"e":0.32,"v":0.34},{"a":0.63,"e":0.32,"v":0.38},{"a":0.6325,"e":0.32,"v":0.36},{"a":0.635,"e":0.32,"v":0.39},{"a":0.6375,"e":0.32,"v":0.38},{"a":0.64,"e":0.32,"v":0.5},{"a":0.6425,"e":0.32,"v":0.54},{"a":0.645,"e":0.32,"v":0.59},{"a":0.6475,"e":0.32,"v":0.65},{"a":0.65,"e":0.32,"v":0.71},{"a":0.6525,"e":0.32,"v":0.74},{"a":0.655,"e":0.32,"v":0.77},{"a":0.6575,"e":0.32,"v":0.8},{"a":0.66,"e":0.32,"v":0.81},{"a":0.6625,"e":0.32,"v":0.81},{"a":0.665,"e":0.32,"v":0.83},{"a":0.6675,"e":0.32,"v":0.84},{"a":0.67,"e":0.32,"v":0.85},{"a":0.6725,"e":0.32,"v":0.85},{"a":0.675,"e":0.32,"v":0.85},{"a":0.6775,"e":0.32,"v":0.86},{"a":0.68,"e":0.32,"v":0.88},{"a":0.6825,"e":0.32,"v":0.89},{"a":0.685,"e":0.32,"v":0.9},{"a":0.6875,"e":0.32,"v":0.9},{"a":0.69,"e":0.32,"v":0.91},{"a":0.6925,"e":0.32,"v":0.9},{"a":0.695,"e":0.32,"v":0.9},{"a":0.6975,"e":0.32,"v":0.87},{"a":0.7,"e":0.32,"v":0.83},{"a":0.7025,"e":0.32,"v":0.83},{"a":0.705,"e":0.32,"v":0.83},{"a":0.7075,"e":0.32,"v":0.83},{"a":0.71,"e":0.32,"v":0.83},
{"a":0.6,"e":0.3,"v":0.33},{"a":0.6025,"e":0.3,"v":0.33},{"a":0.605,"e":0.3,"v":0.33},{"a":0.6075,"e":0.3,"v":0.32},{"a":0.61,"e":0.3,"v":0.33},{"a":0.6125,"e":0.3,"v":0.33},{"a":0.615,"e":0.3,"v":0.33},{"a":0.6175,"e":0.3,"v":0.33},{"a":0.62,"e":0.3,"v":0.33},{"a":0.6225,"e":0.3,"v":0.33},{"a":0.625,"e":0.3,"v":0.34},{"a":0.6275,"e":0.3,"v":0.33},{"a":0.63,"e":0.3,"v":0.39},{"a":0.6325,"e":0.3,"v":0.38},{"a":0.635,"e":0.3,"v":0.5},{"a":0.6375,"e":0.3,"v":0.55},{"a":0.64,"e":0.3,"v":0.64},{"a":0.6425,"e":0.3,"v":0.68},{"a":0.645,"e":0.3,"v":0.74},{"a":0.6475,"e":0.3,"v":0.76},{"a":0.65,"e":0.3,"v":0.8},{"a":0.6525,"e":0.3,"v":0.82},{"a":0.655,"e":0.3,"v":0.84},{"a":0.6575,"e":0.3,"v":0.85},{"a":0.66,"e":0.3,"v":0.85},{"a":0.6625,"e":0.3,"v":0.85},{"a":0.665,"e":0.3,"v":0.86},{"a":0.6675,"e":0.3,"v":0.87},{"a":0.67,"e":0.3,"v":0.87},{"a":0.6725,"e":0.3,"v":0.87},{"a":0.675,"e":0.3,"v":0.9},{"a":0.6775,"e":0.3,"v":0.9},{"a":0.68,"e":0.3,"v":0.9},{"a":0.6825,"e":0.3,"v":0.9},{"a":0.685,"e":0.3,"v":0.87},{"a":0.6875,"e":0.3,"v":0.87},{"a":0.69,"e":0.3,"v":0.85},{"a":0.6925,"e":0.3,"v":0.83},{"a":0.695,"e":0.3,"v":0.83},{"a":0.6975,"e":0.3,"v":0.83},{"a":0.7,"e":0.3,"v":0.83},{"a":0.7025,"e":0.3,"v":0.83},{"a":0.705,"e":0.3,"v":0.83},{"a":0.7075,"e":0.3,"v":0.82},{"a":0.71,"e":0.3,"v":0.82},
{"a":0.6,"e":0.28,"v":0.31},{"a":0.6025,"e":0.28,"v":0.31},{"a":0.605,"e":0.28,"v":0.31},{"a":0.6075,"e":0.28,"v":0.31},{"a":0.61,"e":0.28,"v":0.31},{"a":0.6125,"e":0.28,"v":0.31},{"a":0.615,"e":0.28,"v":0.33},{"a":0.6175,"e":0.28,"v":0.33},{"a":0.62,"e":0.28,"v":0.33},{"a":0.6225,"e":0.28,"v":0.33},{"a":0.625,"e":0.28,"v":0.36},{"a":0.6275,"e":0.28,"v":0.41},{"a":0.63,"e":0.28,"v":0.41},{"a":0.6325,"e":0.28,"v":0.58},{"a":0.635,"e":0.28,"v":0.66},{"a":0.6375,"e":0.28,"v":0.72},{"a":0.64,"e":0.28,"v":0.75},{"a":0.6425,"e":0.28,"v":0.77},{"a":0.645,"e":0.28,"v":0.79},{"a":0.6475,"e":0.28,"v":0.81},{"a":0.65,"e":0.28,"v":0.84},{"a":0.6525,"e":0.28,"v":0.85},{"a":0.655,"e":0.28,"v":0.85},{"a":0.6575,"e":0.28,"v":0.87},{"a":0.66,"e":0.28,"v":0.87},{"a":0.6625,"e":0.28,"v":0.86},{"a":0.665,"e":0.28,"v":0.87},{"a":0.6675,"e":0.28,"v":0.9},{"a":0.67,"e":0.28,"v":0.9},{"a":0.6725,"e":0.28,"v":0.9},{"a":0.675,"e":0.28,"v":0.89},{"a":0.6775,"e":0.28,"v":0.89},{"a":0.68,"e":0.28,"v":0.84},{"a":0.6825,"e":0.28,"v":0.8},{"a":0.685,"e":0.28,"v":0.81},{"a":0.6875,"e":0.28,"v":0.81},{"a":0.69,"e":0.28,"v":0.82},{"a":0.6925,"e":0.28,"v":0.82},{"a":0.695,"e":0.28,"v":0.83},{"a":0.6975,"e":0.28,"v":0.83},{"a":0.7,"e":0.28,"v":0.83},{"a":0.7025,"e":0.28,"v":0.82},{"a":0.705,"e":0.28,"v":0.81},{"a":0.7075,"e":0.28,"v":0.81},{"a":0.71,"e":0.28,"v":0.8},
{"a":0.6,"e":0.26,"v":0.3},{"a":0.6025,"e":0.26,"v":0.3},{"a":0.605,"e":0.26,"v":0.36},{"a":0.6075,"e":0.26,"v":0.31},{"a":0.61,"e":0.26,"v":0.31},{"a":0.6125,"e":0.26,"v":0.31},{"a":0.615,"e":0.26,"v":0.31},{"a":0.6175,"e":0.26,"v":0.33},{"a":0.62,"e":0.26,"v":0.33},{"a":0.6225,"e":0.26,"v":0.38},{"a":0.625,"e":0.26,"v":0.5},{"a":0.6275,"e":0.26,"v":0.58},{"a":0.63,"e":0.26,"v":0.58},{"a":0.6325,"e":0.26,"v":0.7},{"a":0.635,"e":0.26,"v":0.74},{"a":0.6375,"e":0.26,"v":0.78},{"a":0.64,"e":0.26,"v":0.8},{"a":0.6425,"e":0.26,"v":0.8},{"a":0.645,"e":0.26,"v":0.82},{"a":0.6475,"e":0.26,"v":0.83},{"a":0.65,"e":0.26,"v":0.86},{"a":0.6525,"e":0.26,"v":0.86},{"a":0.655,"e":0.26,"v":0.86},{"a":0.6575,"e":0.26,"v":0.87},{"a":0.66,"e":0.26,"v":0.87},{"a":0.6625,"e":0.26,"v":0.87},{"a":0.665,"e":0.26,"v":0.88},{"a":0.6675,"e":0.26,"v":0.88},{"a":0.67,"e":0.26,"v":0.85},{"a":0.6725,"e":0.26,"v":0.83},{"a":0.675,"e":0.26,"v":0.76},{"a":0.6775,"e":0.26,"v":0.76},{"a":0.68,"e":0.26,"v":0.78},{"a":0.6825,"e":0.26,"v":0.8},{"a":0.685,"e":0.26,"v":0.81},{"a":0.6875,"e":0.26,"v":0.81},{"a":0.69,"e":0.26,"v":0.81},{"a":0.6925,"e":0.26,"v":0.82},{"a":0.695,"e":0.26,"v":0.82},{"a":0.6975,"e":0.26,"v":0.82},{"a":0.7,"e":0.26,"v":0.82},{"a":0.7025,"e":0.26,"v":0.81},{"a":0.705,"e":0.26,"v":0.81},{"a":0.7075,"e":0.26,"v":0.86},{"a":0.71,"e":0.26,"v":0.88},
{"a":0.6,"e":0.24,"v":0.31},{"a":0.6025,"e":0.24,"v":0.36},{"a":0.605,"e":0.24,"v":0.3},{"a":0.6075,"e":0.24,"v":0.31},{"a":0.61,"e":0.24,"v":0.3},{"a":0.6125,"e":0.24,"v":0.32},{"a":0.615,"e":0.24,"v":0.33},{"a":0.6175,"e":0.24,"v":0.42},{"a":0.62,"e":0.24,"v":0.53},{"a":0.6225,"e":0.24,"v":0.64},{"a":0.625,"e":0.24,"v":0.68},{"a":0.6275,"e":0.24,"v":0.68},{"a":0.63,"e":0.24,"v":0.69},{"a":0.6325,"e":0.24,"v":0.72},{"a":0.635,"e":0.24,"v":0.76},{"a":0.6375,"e":0.24,"v":0.79},{"a":0.64,"e":0.24,"v":0.82},{"a":0.6425,"e":0.24,"v":0.84},{"a":0.645,"e":0.24,"v":0.84},{"a":0.6475,"e":0.24,"v":0.83},{"a":0.65,"e":0.24,"v":0.84},{"a":0.6525,"e":0.24,"v":0.84},{"a":0.655,"e":0.24,"v":0.84},{"a":0.6575,"e":0.24,"v":0.84},{"a":0.66,"e":0.24,"v":0.81},{"a":0.6625,"e":0.24,"v":0.79},{"a":0.665,"e":0.24,"v":0.73},{"a":0.6675,"e":0.24,"v":0.73},{"a":0.67,"e":0.24,"v":0.75},{"a":0.6725,"e":0.24,"v":0.77},{"a":0.675,"e":0.24,"v":0.79},{"a":0.6775,"e":0.24,"v":0.85},{"a":0.68,"e":0.24,"v":0.8},{"a":0.6825,"e":0.24,"v":0.8},{"a":0.685,"e":0.24,"v":0.81},{"a":0.6875,"e":0.24,"v":0.81},{"a":0.69,"e":0.24,"v":0.81},{"a":0.6925,"e":0.24,"v":0.81},{"a":0.695,"e":0.24,"v":0.81},{"a":0.6975,"e":0.24,"v":0.8},{"a":0.7,"e":0.24,"v":0.8},{"a":0.7025,"e":0.24,"v":0.87},{"a":0.705,"e":0.24,"v":0.81},{"a":0.7075,"e":0.24,"v":0.83},{"a":0.71,"e":0.24,"v":0.77},
{"a":0.6,"e":0.22,"v":0.27},{"a":0.6025,"e":0.22,"v":0.27},{"a":0.605,"e":0.22,"v":0.28},{"a":0.6075,"e":0.22,"v":0.3},{"a":0.61,"e":0.22,"v":0.31},{"a":0.6125,"e":0.22,"v":0.41},{"a":0.615,"e":0.22,"v":0.58},{"a":0.6175,"e":0.22,"v":0.72},{"a":0.62,"e":0.22,"v":0.75},{"a":0.6225,"e":0.22,"v":0.75},{"a":0.625,"e":0.22,"v":0.74},{"a":0.6275,"e":0.22,"v":0.74},{"a":0.63,"e":0.22,"v":0.71},{"a":0.6325,"e":0.22,"v":0.76},{"a":0.635,"e":0.22,"v":0.77},{"a":0.6375,"e":0.22,"v":0.8},{"a":0.64,"e":0.22,"v":0.82},{"a":0.6425,"e":0.22,"v":0.82},{"a":0.645,"e":0.22,"v":0.81},{"a":0.6475,"e":0.22,"v":0.8},{"a":0.65,"e":0.22,"v":0.78},{"a":0.6525,"e":0.22,"v":0.74},{"a":0.655,"e":0.22,"v":0.71},{"a":0.6575,"e":0.22,"v":0.64},{"a":0.66,"e":0.22,"v":0.67},{"a":0.6625,"e":0.22,"v":0.69},{"a":0.665,"e":0.22,"v":0.71},{"a":0.6675,"e":0.22,"v":0.72},{"a":0.67,"e":0.22,"v":0.73},{"a":0.6725,"e":0.22,"v":0.75},{"a":0.675,"e":0.22,"v":0.76},{"a":0.6775,"e":0.22,"v":0.78},{"a":0.68,"e":0.22,"v":0.78},{"a":0.6825,"e":0.22,"v":0.79},{"a":0.685,"e":0.22,"v":0.79},{"a":0.6875,"e":0.22,"v":0.8},{"a":0.69,"e":0.22,"v":0.8},{"a":0.6925,"e":0.22,"v":0.8},{"a":0.695,"e":0.22,"v":0.78},{"a":0.6975,"e":0.22,"v":0.83},{"a":0.7,"e":0.22,"v":0.82},{"a":0.7025,"e":0.22,"v":0.76},{"a":0.705,"e":0.22,"v":0.77},{"a":0.7075,"e":0.22,"v":0.76},{"a":0.71,"e":0.22,"v":0.75},
{"a":0.6,"e":0.2,"v":0.32},{"a":0.6025,"e":0.2,"v":0.35},{"a":0.605,"e":0.2,"v":0.36},{"a":0.6075,"e":0.2,"v":0.42},{"a":0.61,"e":0.2,"v":0.58},{"a":0.6125,"e":0.2,"v":0.71},{"a":0.615,"e":0.2,"v":0.78},{"a":0.6175,"e":0.2,"v":0.79},{"a":0.62,"e":0.2,"v":0.8},{"a":0.6225,"e":0.2,"v":0.81},{"a":0.625,"e":0.2,"v":0.82},{"a":0.6275,"e":0.2,"v":0.82},{"a":0.63,"e":0.2,"v":0.78},{"a":0.6325,"e":0.2,"v":0.84},{"a":0.635,"e":0.2,"v":0.83},{"a":0.6375,"e":0.2,"v":0.84},{"a":0.64,"e":0.2,"v":0.72},{"a":0.6425,"e":0.2,"v":0.66},{"a":0.645,"e":0.2,"v":0.64},{"a":0.6475,"e":0.2,"v":0.6},{"a":0.65,"e":0.2,"v":0.6},{"a":0.6525,"e":0.2,"v":0.58},{"a":0.655,"e":0.2,"v":0.6},{"a":0.6575,"e":0.2,"v":0.61},{"a":0.66,"e":0.2,"v":0.63},{"a":0.6625,"e":0.2,"v":0.67},{"a":0.665,"e":0.2,"v":0.69},{"a":0.6675,"e":0.2,"v":0.7},{"a":0.67,"e":0.2,"v":0.71},{"a":0.6725,"e":0.2,"v":0.72},{"a":0.675,"e":0.2,"v":0.73},{"a":0.6775,"e":0.2,"v":0.74},{"a":0.68,"e":0.2,"v":0.74},{"a":0.6825,"e":0.2,"v":0.76},{"a":0.685,"e":0.2,"v":0.76},{"a":0.6875,"e":0.2,"v":0.77},{"a":0.69,"e":0.2,"v":0.77},{"a":0.6925,"e":0.2,"v":0.78},{"a":0.695,"e":0.2,"v":0.86},{"a":0.6975,"e":0.2,"v":0.88},{"a":0.7,"e":0.2,"v":0.85},{"a":0.7025,"e":0.2,"v":0.76},{"a":0.705,"e":0.2,"v":0.75},{"a":0.7075,"e":0.2,"v":0.75},{"a":0.71,"e":0.2,"v":0.75},
{"a":0.6,"e":0.18,"v":0.4},{"a":0.6025,"e":0.18,"v":0.41},{"a":0.605,"e":0.18,"v":0.54},{"a":0.6075,"e":0.18,"v":0.66},{"a":0.61,"e":0.18,"v":0.74},{"a":0.6125,"e":0.18,"v":0.78},{"a":0.615,"e":0.18,"v":0.78},{"a":0.6175,"e":0.18,"v":0.8},{"a":0.62,"e":0.18,"v":0.83},{"a":0.6225,"e":0.18,"v":0.83},{"a":0.625,"e":0.18,"v":0.84},{"a":0.6275,"e":0.18,"v":0.84},{"a":0.63,"e":0.18,"v":0.84},{"a":0.6325,"e":0.18,"v":0.76},{"a":0.635,"e":0.18,"v":0.65},{"a":0.6375,"e":0.18,"v":0.66},{"a":0.64,"e":0.18,"v":0.65},{"a":0.6425,"e":0.18,"v":0.65},{"a":0.645,"e":0.18,"v":0.63},{"a":0.6475,"e":0.18,"v":0.63},{"a":0.65,"e":0.18,"v":0.61},{"a":0.6525,"e":0.18,"v":0.59},{"a":0.655,"e":0.18,"v":0.57},{"a":0.6575,"e":0.18,"v":0.59},{"a":0.66,"e":0.18,"v":0.6},{"a":0.6625,"e":0.18,"v":0.62},{"a":0.665,"e":0.18,"v":0.8},{"a":0.6675,"e":0.18,"v":0.79},{"a":0.67,"e":0.18,"v":0.75},{"a":0.6725,"e":0.18,"v":0.69},{"a":0.675,"e":0.18,"v":0.71},{"a":0.6775,"e":0.18,"v":0.71},{"a":0.68,"e":0.18,"v":0.72},{"a":0.6825,"e":0.18,"v":0.73},{"a":0.685,"e":0.18,"v":0.74},{"a":0.6875,"e":0.18,"v":0.74},{"a":0.69,"e":0.18,"v":0.74},{"a":0.6925,"e":0.18,"v":0.75},{"a":0.695,"e":0.18,"v":0.76},{"a":0.6975,"e":0.18,"v":0.86},{"a":0.7,"e":0.18,"v":0.9},{"a":0.7025,"e":0.18,"v":0.92},{"a":0.705,"e":0.18,"v":0.92},{"a":0.7075,"e":0.18,"v":0.92},{"a":0.71,"e":0.18,"v":0.91},
{"a":0.6,"e":0.16,"v":0.47},{"a":0.6025,"e":0.16,"v":0.57},{"a":0.605,"e":0.16,"v":0.64},{"a":0.6075,"e":0.16,"v":0.69},{"a":0.61,"e":0.16,"v":0.74},{"a":0.6125,"e":0.16,"v":0.78},{"a":0.615,"e":0.16,"v":0.8},{"a":0.6175,"e":0.16,"v":0.81},{"a":0.62,"e":0.16,"v":0.84},{"a":0.6225,"e":0.16,"v":0.84},{"a":0.625,"e":0.16,"v":0.75},{"a":0.6275,"e":0.16,"v":0.63},{"a":0.63,"e":0.16,"v":0.87},{"a":0.6325,"e":0.16,"v":0.67},{"a":0.635,"e":0.16,"v":0.67},{"a":0.6375,"e":0.16,"v":0.66},{"a":0.64,"e":0.16,"v":0.66},{"a":0.6425,"e":0.16,"v":0.66},{"a":0.645,"e":0.16,"v":0.63},{"a":0.6475,"e":0.16,"v":0.62},{"a":0.65,"e":0.16,"v":0.61},{"a":0.6525,"e":0.16,"v":0.69},{"a":0.655,"e":0.16,"v":0.69},{"a":0.6575,"e":0.16,"v":0.6},{"a":0.66,"e":0.16,"v":0.56},{"a":0.6625,"e":0.16,"v":0.58},{"a":0.665,"e":0.16,"v":0.58},{"a":0.6675,"e":0.16,"v":0.58},{"a":0.67,"e":0.16,"v":0.71},{"a":0.6725,"e":0.16,"v":0.61},{"a":0.675,"e":0.16,"v":0.63},{"a":0.6775,"e":0.16,"v":0.6},{"a":0.68,"e":0.16,"v":0.63},{"a":0.6825,"e":0.16,"v":0.67},{"a":0.685,"e":0.16,"v":0.7},{"a":0.6875,"e":0.16,"v":0.71},{"a":0.69,"e":0.16,"v":0.71},{"a":0.6925,"e":0.16,"v":0.71},{"a":0.695,"e":0.16,"v":0.72},{"a":0.6975,"e":0.16,"v":0.72},{"a":0.7,"e":0.16,"v":0.73},{"a":0.7025,"e":0.16,"v":0.72},{"a":0.705,"e":0.16,"v":0.72},{"a":0.7075,"e":0.16,"v":0.72},{"a":0.71,"e":0.16,"v":0.72},
{"a":0.6,"e":0.14,"v":0.54},{"a":0.6025,"e":0.14,"v":0.58},{"a":0.605,"e":0.14,"v":0.62},{"a":0.6075,"e":0.14,"v":0.66},{"a":0.61,"e":0.14,"v":0.72},{"a":0.6125,"e":0.14,"v":0.73},{"a":0.615,"e":0.14,"v":0.74},{"a":0.6175,"e":0.14,"v":0.7},{"a":0.62,"e":0.14,"v":0.63},{"a":0.6225,"e":0.14,"v":0.63},{"a":0.625,"e":0.14,"v":0.64},{"a":0.6275,"e":0.14,"v":0.64},{"a":0.63,"e":0.14,"v":0.71},{"a":0.6325,"e":0.14,"v":0.66},{"a":0.635,"e":0.14,"v":0.67},{"a":0.6375,"e":0.14,"v":0.66},{"a":0.64,"e":0.14,"v":0.65},{"a":0.6425,"e":0.14,"v":0.63},{"a":0.645,"e":0.14,"v":0.64},{"a":0.6475,"e":0.14,"v":0.62},{"a":0.65,"e":0.14,"v":0.6},{"a":0.6525,"e":0.14,"v":0.6},{"a":0.655,"e":0.14,"v":0.6},{"a":0.6575,"e":0.14,"v":0.59},{"a":0.66,"e":0.14,"v":0.57},{"a":0.6625,"e":0.14,"v":0.57},{"a":0.665,"e":0.14,"v":0.52},{"a":0.6675,"e":0.14,"v":0.77},{"a":0.67,"e":0.14,"v":0.71},{"a":0.6725,"e":0.14,"v":0.58},{"a":0.675,"e":0.14,"v":0.58},{"a":0.6775,"e":0.14,"v":0.62},{"a":0.68,"e":0.14,"v":0.63},{"a":0.6825,"e":0.14,"v":0.64},{"a":0.685,"e":0.14,"v":0.66},{"a":0.6875,"e":0.14,"v":0.66},{"a":0.69,"e":0.14,"v":0.68},{"a":0.6925,"e":0.14,"v":0.69},{"a":0.695,"e":0.14,"v":0.7},{"a":0.6975,"e":0.14,"v":0.71},{"a":0.7,"e":0.14,"v":0.72},{"a":0.7025,"e":0.14,"v":0.72},{"a":0.705,"e":0.14,"v":0.72},{"a":0.7075,"e":0.14,"v":0.74},{"a":0.71,"e":0.14,"v":0.74},
{"a":0.6,"e":0.12,"v":0.55},{"a":0.6025,"e":0.12,"v":0.58},{"a":0.605,"e":0.12,"v":0.6},{"a":0.6075,"e":0.12,"v":0.62},{"a":0.61,"e":0.12,"v":0.61},{"a":0.6125,"e":0.12,"v":0.6},{"a":0.615,"e":0.12,"v":0.57},{"a":0.6175,"e":0.12,"v":0.58},{"a":0.62,"e":0.12,"v":0.58},{"a":0.6225,"e":0.12,"v":0.6},{"a":0.625,"e":0.12,"v":0.62},{"a":0.6275,"e":0.12,"v":0.62},{"a":0.63,"e":0.12,"v":0.69},{"a":0.6325,"e":0.12,"v":0.65},{"a":0.635,"e":0.12,"v":0.65},{"a":0.6375,"e":0.12,"v":0.65},{"a":0.64,"e":0.12,"v":0.65},{"a":0.6425,"e":0.12,"v":0.64},{"a":0.645,"e":0.12,"v":0.64},{"a":0.6475,"e":0.12,"v":0.64},{"a":0.65,"e":0.12,"v":0.63},{"a":0.6525,"e":0.12,"v":0.66},{"a":0.655,"e":0.12,"v":0.69},{"a":0.6575,"e":0.12,"v":0.7},{"a":0.66,"e":0.12,"v":0.7},{"a":0.6625,"e":0.12,"v":0.8},{"a":0.665,"e":0.12,"v":0.89},{"a":0.6675,"e":0.12,"v":0.71},{"a":0.67,"e":0.12,"v":0.71},{"a":0.6725,"e":0.12,"v":0.69},{"a":0.675,"e":0.12,"v":0.66},{"a":0.6775,"e":0.12,"v":0.64},{"a":0.68,"e":0.12,"v":0.61},{"a":0.6825,"e":0.12,"v":0.58},{"a":0.685,"e":0.12,"v":0.56},{"a":0.6875,"e":0.12,"v":0.57},{"a":0.69,"e":0.12,"v":0.6},{"a":0.6925,"e":0.12,"v":0.63},{"a":0.695,"e":0.12,"v":0.64},{"a":0.6975,"e":0.12,"v":0.66},{"a":0.7,"e":0.12,"v":0.68},{"a":0.7025,"e":0.12,"v":0.69},{"a":0.705,"e":0.12,"v":0.7},{"a":0.7075,"e":0.12,"v":0.72},{"a":0.71,"e":0.12,"v":0.71},
{"a":0.6,"e":0.1,"v":0.65},{"a":0.6025,"e":0.1,"v":0.68},{"a":0.605,"e":0.1,"v":0.68},{"a":0.6075,"e":0.1,"v":0.68},{"a":0.61,"e":0.1,"v":0.66},{"a":0.6125,"e":0.1,"v":0.6},{"a":0.615,"e":0.1,"v":0.54},{"a":0.6175,"e":0.1,"v":0.53},{"a":0.62,"e":0.1,"v":0.55},{"a":0.6225,"e":0.1,"v":0.57},{"a":0.625,"e":0.1,"v":0.59},{"a":0.6275,"e":0.1,"v":0.59},{"a":0.63,"e":0.1,"v":0.68},{"a":0.6325,"e":0.1,"v":0.6},{"a":0.635,"e":0.1,"v":0.6},{"a":0.6375,"e":0.1,"v":0.66},{"a":0.64,"e":0.1,"v":0.71},{"a":0.6425,"e":0.1,"v":0.73},{"a":0.645,"e":0.1,"v":0.78},{"a":0.6475,"e":0.1,"v":0.81},{"a":0.65,"e":0.1,"v":0.83},{"a":0.6525,"e":0.1,"v":0.76},{"a":0.655,"e":0.1,"v":0.78},{"a":0.6575,"e":0.1,"v":0.79},{"a":0.66,"e":0.1,"v":0.83},{"a":0.6625,"e":0.1,"v":0.83},{"a":0.665,"e":0.1,"v":0.85},{"a":0.6675,"e":0.1,"v":0.85},{"a":0.67,"e":0.1,"v":0.85},{"a":0.6725,"e":0.1,"v":0.85},{"a":0.675,"e":0.1,"v":0.85},{"a":0.6775,"e":0.1,"v":0.84},{"a":0.68,"e":0.1,"v":0.81},{"a":0.6825,"e":0.1,"v":0.79},{"a":0.685,"e":0.1,"v":0.77},{"a":0.6875,"e":0.1,"v":0.74},{"a":0.69,"e":0.1,"v":0.7},{"a":0.6925,"e":0.1,"v":0.68},{"a":0.695,"e":0.1,"v":0.63},{"a":0.6975,"e":0.1,"v":0.63},{"a":0.7,"e":0.1,"v":0.66},{"a":0.7025,"e":0.1,"v":0.67},{"a":0.705,"e":0.1,"v":0.68},{"a":0.7075,"e":0.1,"v":0.71},{"a":0.71,"e":0.1,"v":0.72},
{"a":0.6,"e":0.08,"v":0.69},{"a":0.6025,"e":0.08,"v":0.69},{"a":0.605,"e":0.08,"v":0.69},{"a":0.6075,"e":0.08,"v":0.67},{"a":0.61,"e":0.08,"v":0.65},{"a":0.6125,"e":0.08,"v":0.57},{"a":0.615,"e":0.08,"v":0.53},{"a":0.6175,"e":0.08,"v":0.48},{"a":0.62,"e":0.08,"v":0.51},{"a":0.6225,"e":0.08,"v":0.51},{"a":0.625,"e":0.08,"v":0.51},{"a":0.6275,"e":0.08,"v":0.5},{"a":0.63,"e":0.08,"v":0.54},{"a":0.6325,"e":0.08,"v":0.52},{"a":0.635,"e":0.08,"v":0.55},{"a":0.6375,"e":0.08,"v":0.57},{"a":0.64,"e":0.08,"v":0.6},{"a":0.6425,"e":0.08,"v":0.66},{"a":0.645,"e":0.08,"v":0.7},{"a":0.6475,"e":0.08,"v":0.73},{"a":0.65,"e":0.08,"v":0.76},{"a":0.6525,"e":0.08,"v":0.8},{"a":0.655,"e":0.08,"v":0.83},{"a":0.6575,"e":0.08,"v":0.87},{"a":0.66,"e":0.08,"v":0.87},{"a":0.6625,"e":0.08,"v":0.89},{"a":0.665,"e":0.08,"v":0.9},{"a":0.6675,"e":0.08,"v":0.9},{"a":0.67,"e":0.08,"v":0.91},{"a":0.6725,"e":0.08,"v":0.9},{"a":0.675,"e":0.08,"v":0.9},{"a":0.6775,"e":0.08,"v":0.9},{"a":0.68,"e":0.08,"v":0.87},{"a":0.6825,"e":0.08,"v":0.85},{"a":0.685,"e":0.08,"v":0.82},{"a":0.6875,"e":0.08,"v":0.76},{"a":0.69,"e":0.08,"v":0.7},{"a":0.6925,"e":0.08,"v":0.65},{"a":0.695,"e":0.08,"v":0.58},{"a":0.6975,"e":0.08,"v":0.55},{"a":0.7,"e":0.08,"v":0.55},{"a":0.7025,"e":0.08,"v":0.56},{"a":0.705,"e":0.08,"v":0.56},{"a":0.7075,"e":0.08,"v":0.63},{"a":0.71,"e":0.08,"v":0.6},
{"a":0.6,"e":0.06,"v":0.57},{"a":0.6025,"e":0.06,"v":0.58},{"a":0.605,"e":0.06,"v":0.58},{"a":0.6075,"e":0.06,"v":0.57},{"a":0.61,"e":0.06,"v":0.56},{"a":0.6125,"e":0.06,"v":0.55},{"a":0.615,"e":0.06,"v":0.54},{"a":0.6175,"e":0.06,"v":0.51},{"a":0.62,"e":0.06,"v":0.49},{"a":0.6225,"e":0.06,"v":0.49},{"a":0.625,"e":0.06,"v":0.48},{"a":0.6275,"e":0.06,"v":0.49},{"a":0.63,"e":0.06,"v":0.51},{"a":0.6325,"e":0.06,"v":0.5},{"a":0.635,"e":0.06,"v":0.53},{"a":0.6375,"e":0.06,"v":0.56},{"a":0.64,"e":0.06,"v":0.6},{"a":0.6425,"e":0.06,"v":0.66},{"a":0.645,"e":0.06,"v":0.71},{"a":0.6475,"e":0.06,"v":0.74},{"a":0.65,"e":0.06,"v":0.78},{"a":0.6525,"e":0.06,"v":0.81},{"a":0.655,"e":0.06,"v":0.83},{"a":0.6575,"e":0.06,"v":0.84},{"a":0.66,"e":0.06,"v":0.83},{"a":0.6625,"e":0.06,"v":0.81},{"a":0.665,"e":0.06,"v":0.85},{"a":0.6675,"e":0.06,"v":0.87},{"a":0.67,"e":0.06,"v":0.86},{"a":0.6725,"e":0.06,"v":0.87},{"a":0.675,"e":0.06,"v":0.87},{"a":0.6775,"e":0.06,"v":0.87},{"a":0.68,"e":0.06,"v":0.85},{"a":0.6825,"e":0.06,"v":0.84},{"a":0.685,"e":0.06,"v":0.76},{"a":0.6875,"e":0.06,"v":0.72},{"a":0.69,"e":0.06,"v":0.67},{"a":0.6925,"e":0.06,"v":0.6},{"a":0.695,"e":0.06,"v":0.54},{"a":0.6975,"e":0.06,"v":0.51},{"a":0.7,"e":0.06,"v":0.47},{"a":0.7025,"e":0.06,"v":0.47},{"a":0.705,"e":0.06,"v":0.48},{"a":0.7075,"e":0.06,"v":0.52},{"a":0.71,"e":0.06,"v":0.53},
{"a":0.6,"e":0.04,"v":0.46},{"a":0.6025,"e":0.04,"v":0.45},{"a":0.605,"e":0.04,"v":0.46},{"a":0.6075,"e":0.04,"v":0.47},{"a":0.61,"e":0.04,"v":0.49},{"a":0.6125,"e":0.04,"v":0.51},{"a":0.615,"e":0.04,"v":0.51},{"a":0.6175,"e":0.04,"v":0.54},{"a":0.62,"e":0.04,"v":0.55},{"a":0.6225,"e":0.04,"v":0.6},{"a":0.625,"e":0.04,"v":0.62},{"a":0.6275,"e":0.04,"v":0.65},{"a":0.63,"e":0.04,"v":0.67},{"a":0.6325,"e":0.04,"v":0.72},{"a":0.635,"e":0.04,"v":0.74},{"a":0.6375,"e":0.04,"v":0.76},{"a":0.64,"e":0.04,"v":0.76},{"a":0.6425,"e":0.04,"v":0.78},{"a":0.645,"e":0.04,"v":0.78},{"a":0.6475,"e":0.04,"v":0.81},{"a":0.65,"e":0.04,"v":0.84},{"a":0.6525,"e":0.04,"v":0.85},{"a":0.655,"e":0.04,"v":0.88},{"a":0.6575,"e":0.04,"v":0.89},{"a":0.66,"e":0.04,"v":0.89},{"a":0.6625,"e":0.04,"v":0.86},{"a":0.665,"e":0.04,"v":0.77},{"a":0.6675,"e":0.04,"v":0.68},{"a":0.67,"e":0.04,"v":0.69},{"a":0.6725,"e":0.04,"v":0.73},{"a":0.675,"e":0.04,"v":0.74},{"a":0.6775,"e":0.04,"v":0.74},{"a":0.68,"e":0.04,"v":0.74},{"a":0.6825,"e":0.04,"v":0.74},{"a":0.685,"e":0.04,"v":0.72},{"a":0.6875,"e":0.04,"v":0.71},{"a":0.69,"e":0.04,"v":0.68},{"a":0.6925,"e":0.04,"v":0.65},{"a":0.695,"e":0.04,"v":0.62},{"a":0.6975,"e":0.04,"v":0.63},{"a":0.7,"e":0.04,"v":0.64},{"a":0.7025,"e":0.04,"v":0.62},{"a":0.705,"e":0.04,"v":0.6},{"a":0.7075,"e":0.04,"v":0.62},{"a":0.71,"e":0.04,"v":0.62},
{"a":0.6,"e":0.02,"v":0.46},{"a":0.6025,"e":0.02,"v":0.47},{"a":0.605,"e":0.02,"v":0.48},{"a":0.6075,"e":0.02,"v":0.49},{"a":0.61,"e":0.02,"v":0.49},{"a":0.6125,"e":0.02,"v":0.49},{"a":0.615,"e":0.02,"v":0.48},{"a":0.6175,"e":0.02,"v":0.48},{"a":0.62,"e":0.02,"v":0.47},{"a":0.6225,"e":0.02,"v":0.47},{"a":0.625,"e":0.02,"v":0.46},{"a":0.6275,"e":0.02,"v":0.48},{"a":0.63,"e":0.02,"v":0.43},{"a":0.6325,"e":0.02,"v":0.51},{"a":0.635,"e":0.02,"v":0.54},{"a":0.6375,"e":0.02,"v":0.56},{"a":0.64,"e":0.02,"v":0.58},{"a":0.6425,"e":0.02,"v":0.62},{"a":0.645,"e":0.02,"v":0.63},{"a":0.6475,"e":0.02,"v":0.56},{"a":0.65,"e":0.02,"v":0.49},{"a":0.6525,"e":0.02,"v":0.46},{"a":0.655,"e":0.02,"v":0.44},{"a":0.6575,"e":0.02,"v":0.45},{"a":0.66,"e":0.02,"v":0.48},{"a":0.6625,"e":0.02,"v":0.52},{"a":0.665,"e":0.02,"v":0.59},{"a":0.6675,"e":0.02,"v":0.65},{"a":0.67,"e":0.02,"v":0.67},{"a":0.6725,"e":0.02,"v":0.65},{"a":0.675,"e":0.02,"v":0.6},{"a":0.6775,"e":0.02,"v":0.55},{"a":0.68,"e":0.02,"v":0.56},{"a":0.6825,"e":0.02,"v":0.58},{"a":0.685,"e":0.02,"v":0.6},{"a":0.6875,"e":0.02,"v":0.6},{"a":0.69,"e":0.02,"v":0.64},{"a":0.6925,"e":0.02,"v":0.65},{"a":0.695,"e":0.02,"v":0.67},{"a":0.6975,"e":0.02,"v":0.7},{"a":0.7,"e":0.02,"v":0.72},{"a":0.7025,"e":0.02,"v":0.74},{"a":0.705,"e":0.02,"v":0.77},{"a":0.7075,"e":0.02,"v":0.77},{"a":0.71,"e":0.02,"v":0.8},
{"a":0.6,"e":0,"v":0.01},{"a":0.6025,"e":0,"v":0.01},{"a":0.605,"e":0,"v":0.01},{"a":0.6075,"e":0,"v":0.01},{"a":0.61,"e":0,"v":0.01},{"a":0.6125,"e":0,"v":0.01},{"a":0.615,"e":0,"v":0.01},{"a":0.6175,"e":0,"v":0.01},{"a":0.62,"e":0,"v":0.01},{"a":0.6225,"e":0,"v":0.01},{"a":0.625,"e":0,"v":0.01},{"a":0.6275,"e":0,"v":0.01},{"a":0.63,"e":0,"v":0.06},{"a":0.6325,"e":0,"v":0.01},{"a":0.635,"e":0,"v":0.01},{"a":0.6375,"e":0,"v":0.01},{"a":0.64,"e":0,"v":0.01},{"a":0.6425,"e":0,"v":0.01},{"a":0.645,"e":0,"v":0.01},{"a":0.6475,"e":0,"v":0.01},{"a":0.65,"e":0,"v":0.01},{"a":0.6525,"e":0,"v":0.01},{"a":0.655,"e":0,"v":0.01},{"a":0.6575,"e":0,"v":0.01},{"a":0.66,"e":0,"v":0.01},{"a":0.6625,"e":0,"v":0.01},{"a":0.665,"e":0,"v":0.01},{"a":0.6675,"e":0,"v":0.01},{"a":0.67,"e":0,"v":0.01},{"a":0.6725,"e":0,"v":0.01},{"a":0.675,"e":0,"v":0.01},{"a":0.6775,"e":0,"v":0.01},{"a":0.68,"e":0,"v":0.01},{"a":0.6825,"e":0,"v":0.01},{"a":0.685,"e":0,"v":0.01},{"a":0.6875,"e":0,"v":0.01},{"a":0.69,"e":0,"v":0.01},{"a":0.6925,"e":0,"v":0.01},{"a":0.695,"e":0,"v":0.01},{"a":0.6975,"e":0,"v":0.01},{"a":0.7,"e":0,"v":0.01},{"a":0.7025,"e":0,"v":0.01},{"a":0.705,"e":0,"v":0.01},{"a":0.7075,"e":0,"v":0.01},{"a":0.71,"e":0,"v":0.01}
]},"mark":{"type":"rect","width":16,"height":15,"clip":false},"encoding":{"x":{"field":"a","type":"quantitative","scale":{"domain":[0.59433,0.71],"nice":false},"axis":{"values":[0.6,0.62,0.64,0.66,0.68,0.7],"format":"~g","tickSize":9,"tickColor":"#222","domain":false,"grid":false,"labelFont":"Noto Sans","labelFontSize":25,"labelColor":"#222","labelPadding":7,"title":"a","titleFont":"Liberation Serif","titleFontStyle":"italic","titleFontWeight":"normal","titleFontSize":46,"titleColor":"#222","titleAlign":"left","titleBaseline":"alphabetic","titleX":241,"titleY":67}},"y":{"field":"e","type":"quantitative","scale":{"domain":[0,0.8],"nice":false},"axis":{"values":[0,0.1,0.2,0.3,0.4,0.5,0.6,0.7,0.8],"format":"~g","offset":-36,"tickSize":9,"tickColor":"#222","domainColor":"#222","grid":false,"labelFont":"Noto Sans","labelFontSize":25,"labelColor":"#222","labelPadding":5,"title":"e","titleFont":"Liberation Serif","titleFontStyle":"italic","titleFontWeight":"normal","titleFontSize":48,"titleColor":"#222","titleX":-58,"titleY":287}},"color":{"field":"v","type":"quantitative","legend":null,"scale":{"domain":[0,0.1,0.18,0.22,0.3,0.43,0.54,0.67,0.82,0.93,1],"range":["#00002d","#15154a","#252d78","#283a94","#225ea8","#1d91c0","#41b6c4","#7fcdbb","#c6e4b4","#ebf1b0","#fffcd9"]}}}},{"data":{"values":[{"a":0.6,"e":0.733},{"a":0.71,"e":0.775}]},"mark":{"type":"line","color":"#d0d0d0","strokeWidth":5,"clip":false},"encoding":{"x":{"field":"a","type":"quantitative"},"y":{"field":"e","type":"quantitative"}}}]}]}
